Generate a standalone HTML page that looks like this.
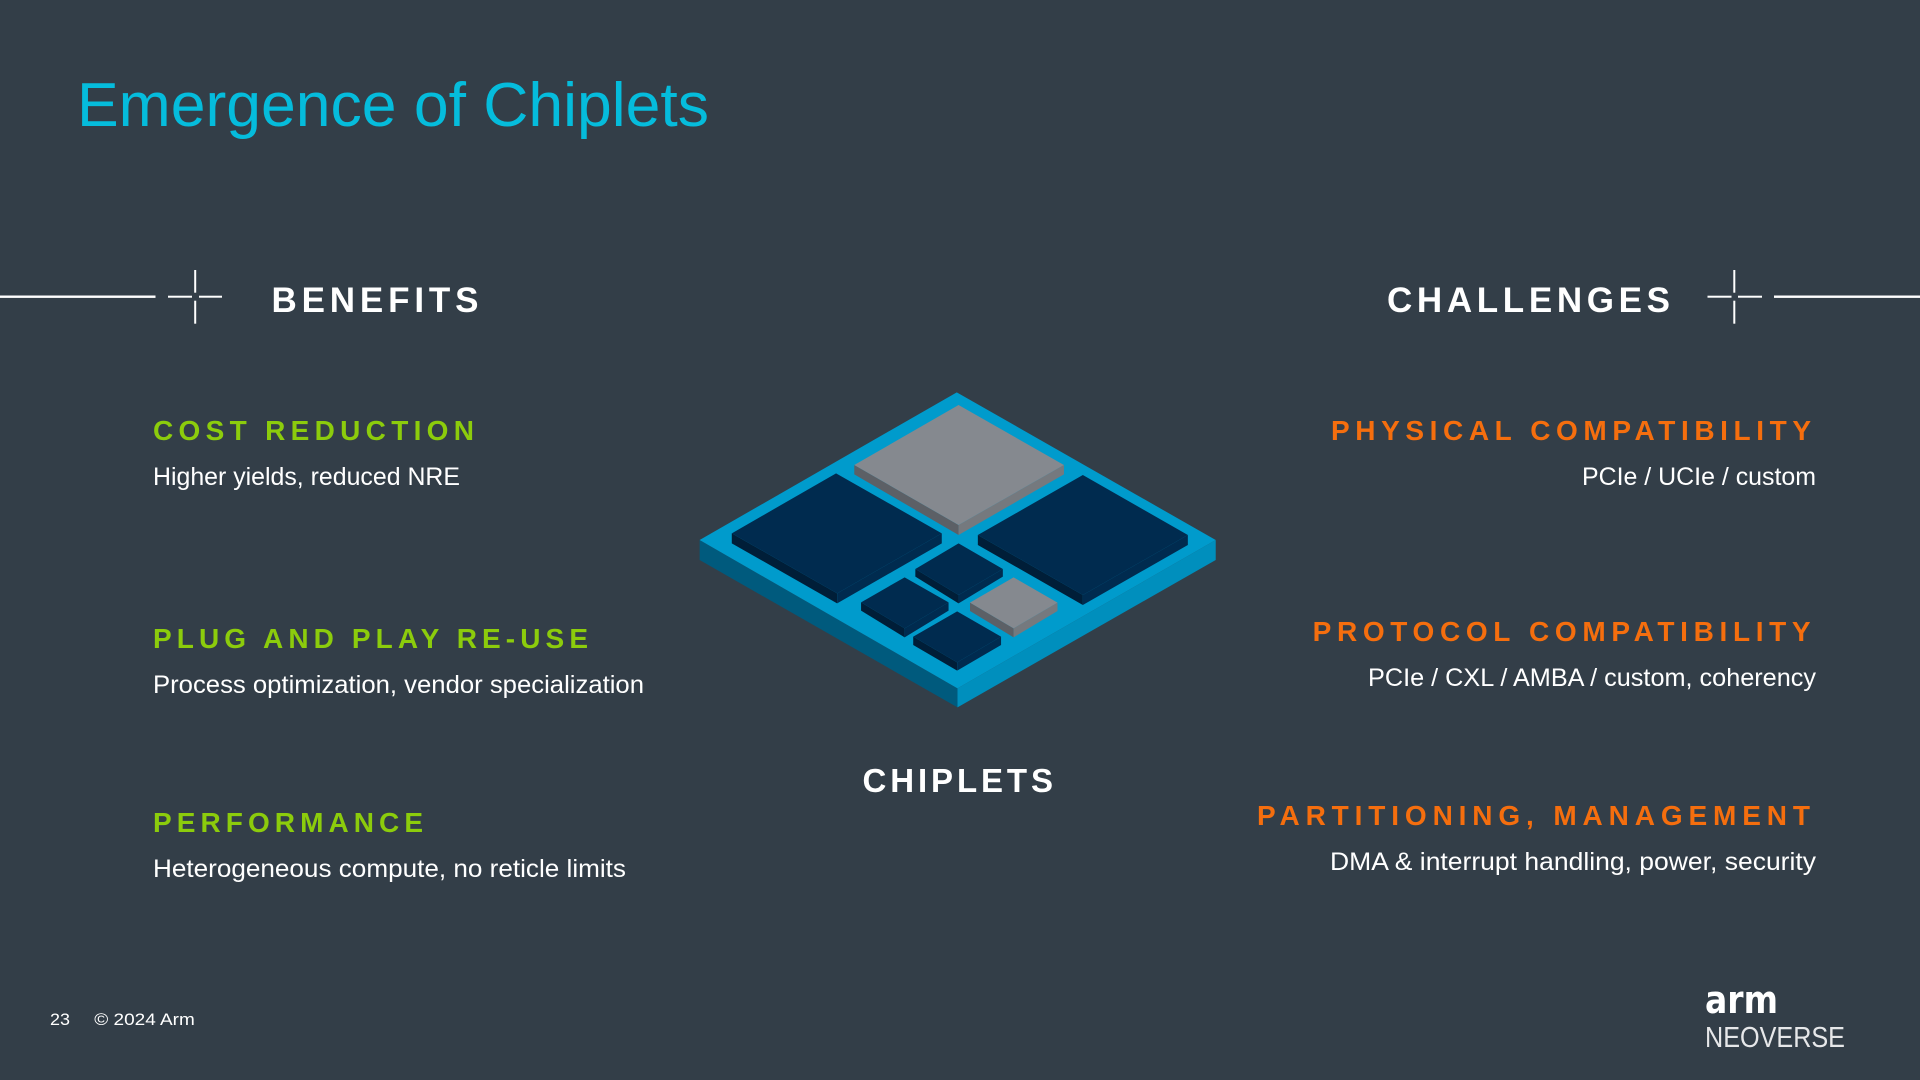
<!DOCTYPE html>
<html>
<head>
<meta charset="utf-8">
<style>
html,body{margin:0;padding:0;width:1920px;height:1080px;overflow:hidden;background:#333e48}
svg{display:block}
text{font-family:"Liberation Sans",sans-serif}
.h{font-weight:700;font-size:35px;fill:#fff;letter-spacing:5px}
.g{font-weight:700;font-size:28px;fill:#8ccc0c;letter-spacing:4px}
.o{font-weight:700;font-size:28px;fill:#f56e0e;letter-spacing:4px}
.b{font-size:25px;fill:#fff}
.f{font-size:17px;fill:#fff}
</style>
</head>
<body>
<svg width="1920" height="1080" viewBox="0 0 1920 1080" xmlns="http://www.w3.org/2000/svg">
<rect width="1920" height="1080" fill="#333e48"/>

<text x="77" y="126" font-size="62" fill="#05bcdc" textLength="632" lengthAdjust="spacingAndGlyphs">Emergence of Chiplets</text>

<!-- left line and cross -->
<g fill="#fff">
<rect x="0" y="295.5" width="155.5" height="2.4"/>
<rect x="168" y="295.7" width="24" height="2"/>
<rect x="199" y="295.7" width="23" height="2"/>
<rect x="194.2" y="270" width="2" height="22.7"/>
<rect x="194.2" y="300.7" width="2" height="23"/>
<!-- right line and cross -->
<rect x="1774" y="295.5" width="146" height="2.4"/>
<rect x="1707.5" y="295.7" width="24" height="2"/>
<rect x="1738" y="295.7" width="24" height="2"/>
<rect x="1733.3" y="270" width="2" height="22.7"/>
<rect x="1733.3" y="300.7" width="2" height="23"/>
</g>

<text class="h" x="271.5" y="312" textLength="212" lengthAdjust="spacing">BENEFITS</text>
<text class="h" x="1387" y="312" textLength="288" lengthAdjust="spacing">CHALLENGES</text>
<text class="h" x="862.5" y="792" style="font-size:33px" textLength="195.5" lengthAdjust="spacing">CHIPLETS</text>

<text class="g" x="153" y="440" textLength="325" lengthAdjust="spacing">COST REDUCTION</text>
<text class="b" x="153" y="485" textLength="307" lengthAdjust="spacingAndGlyphs">Higher yields, reduced NRE</text>
<text class="g" x="153" y="648" textLength="439" lengthAdjust="spacing">PLUG AND PLAY RE-USE</text>
<text class="b" x="153" y="693" textLength="491" lengthAdjust="spacingAndGlyphs">Process optimization, vendor specialization</text>
<text class="g" x="153" y="832" textLength="274" lengthAdjust="spacing">PERFORMANCE</text>
<text class="b" x="153" y="877" textLength="473" lengthAdjust="spacingAndGlyphs">Heterogeneous compute, no reticle limits</text>

<text class="o" x="1331" y="440" textLength="484" lengthAdjust="spacing">PHYSICAL COMPATIBILITY</text>
<text class="b" x="1582" y="485" textLength="234" lengthAdjust="spacingAndGlyphs">PCIe / UCIe / custom</text>
<text class="o" x="1312.6" y="641" textLength="502" lengthAdjust="spacing">PROTOCOL COMPATIBILITY</text>
<text class="b" x="1368" y="686" textLength="448" lengthAdjust="spacingAndGlyphs">PCIe / CXL / AMBA / custom, coherency</text>
<text class="o" x="1257" y="825" textLength="557" lengthAdjust="spacing">PARTITIONING, MANAGEMENT</text>
<text class="b" x="1330" y="870" textLength="486" lengthAdjust="spacingAndGlyphs">DMA &amp; interrupt handling, power, security</text>

<!-- chip illustration -->
<g transform="translate(680,380) scale(0.35714,0.33333)">
<polygon points="55,480 777,925 777,982 55,540" fill="#005a7d"/>
<polygon points="1500,480 777,925 777,982 1500,540" fill="#008fbd"/>
<polygon points="775,37 1500,480 777,925 55,480" fill="#009bcc"/>

<polygon points="488,255 780,435 780,465 488,283" fill="#5c6066"/>
<polygon points="1075,255 780,435 780,465 1075,283" fill="#75797e"/>
<polygon points="780,75 1075,255 780,435 488,255" fill="#85898f"/>

<polygon points="145,460 440,640 440,670 145,490" fill="#001e38"/>
<polygon points="733,460 440,640 440,670 733,490" fill="#002b4f"/>
<polygon points="437,280 733,460 440,640 145,460" fill="#002b4f"/>

<polygon points="834,465 1128,645 1128,675 834,495" fill="#001e38"/>
<polygon points="1422,465 1128,645 1128,675 1422,495" fill="#002b4f"/>
<polygon points="1128,285 1422,465 1128,645 834,465" fill="#002b4f"/>

<polygon points="659,567 780,645 780,670 659,590" fill="#001e38"/>
<polygon points="904,567 780,645 780,670 904,590" fill="#002b4f"/>
<polygon points="780,490 904,567 780,645 659,567" fill="#002b4f"/>

<polygon points="507,667 629,745 629,772 507,692" fill="#001e38"/>
<polygon points="752,667 629,745 629,772 752,692" fill="#002b4f"/>
<polygon points="629,592 752,667 629,745 507,667" fill="#002b4f"/>

<polygon points="653,770 776,847 776,872 653,795" fill="#001e38"/>
<polygon points="899,770 776,847 776,872 899,795" fill="#002b4f"/>
<polygon points="776,694 899,770 776,847 653,770" fill="#002b4f"/>

<polygon points="812,668 934,745 934,772 812,693" fill="#5c6066"/>
<polygon points="1057,668 934,745 934,772 1057,693" fill="#75797e"/>
<polygon points="934,592 1057,668 934,745 812,668" fill="#85898f"/>
</g>

<!-- footer -->
<text class="f" x="50" y="1025" textLength="20" lengthAdjust="spacingAndGlyphs">23</text>
<text class="f" x="94.3" y="1025" textLength="100.5" lengthAdjust="spacingAndGlyphs">© 2024 Arm</text>

<!-- logo -->
<text x="1705" y="1013" font-size="38" font-weight="700" fill="#fff" style="font-family:'DejaVu Sans',sans-serif" textLength="73" lengthAdjust="spacingAndGlyphs">arm</text>
<text x="1705" y="1047" font-size="29" fill="#fff" fill-opacity="0.88" textLength="140" lengthAdjust="spacingAndGlyphs">NEOVERSE</text>
</svg>
</body>
</html>
